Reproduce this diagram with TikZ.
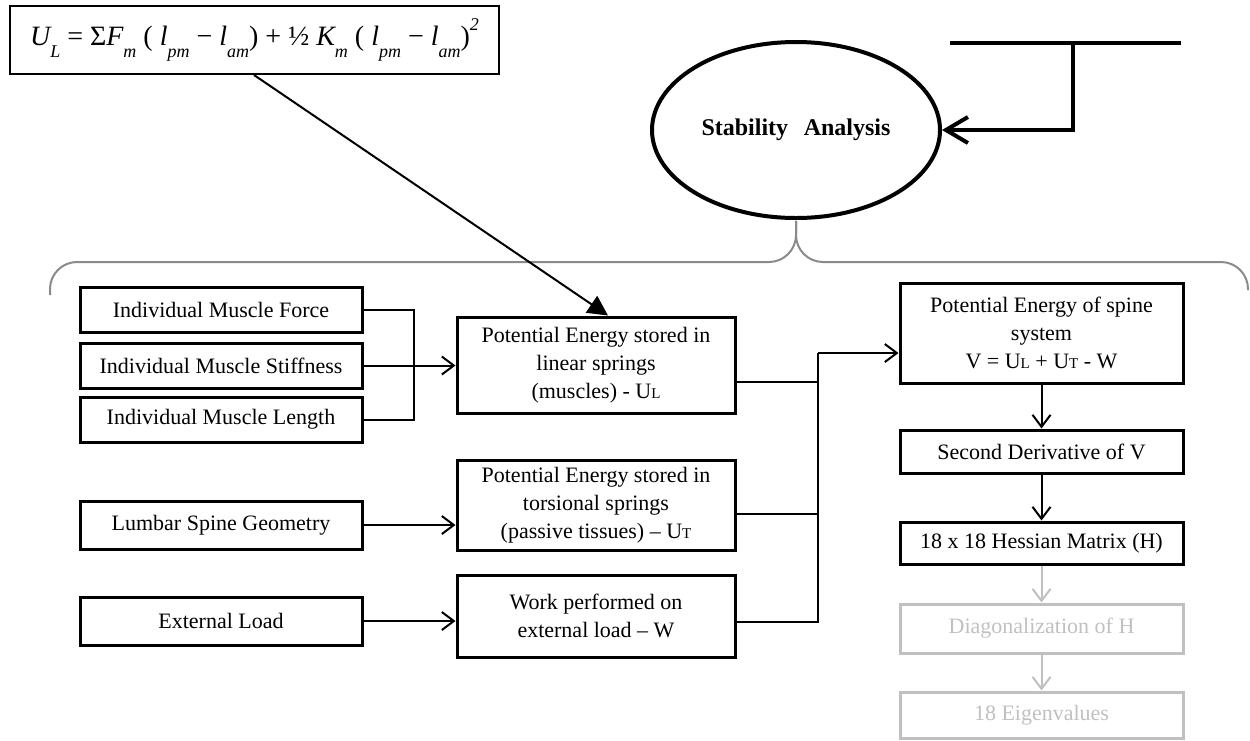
\documentclass[tikz,border=0pt]{standalone}
\usepackage{fontspec}
\setmainfont{Liberation Serif}
\usetikzlibrary{arrows.meta,positioning,shapes.geometric}
\definecolor{fadegray}{HTML}{C0C0C0}
\definecolor{bracegray}{HTML}{8A8A8A}
\newcommand\smc[1]{{\fontsize{15}{15}\selectfont #1}}
\newcommand\lowsub[1]{\raisebox{-0.42em}{\fontsize{18}{18}\selectfont\itshape #1}}
\tikzset{box/.style={draw,line width=3pt,align=center,inner sep=0pt,
    font=\fontsize{22}{28}\selectfont},
  gbox/.style={box,draw=fadegray,text=fadegray},
  link/.style={line width=2pt},
  flow/.style={link,-{Straight Barb[length=12pt,width=18pt]}},
  gflow/.style={flow,fadegray},
  pointer/.style={link,-{Triangle[length=20pt,width=20pt]}},
  heavy/.style={line width=4pt},
  heavyflow/.style={heavy,-{Straight Barb[length=22pt,width=26pt]}}}

\begin{document}
\begin{tikzpicture}[x=1pt,y=-1pt]
\useasboundingbox (0,0) rectangle (1250,740);
% formula and goal
\node[draw,line width=2pt,minimum width=489,minimum height=68,inner sep=0pt,
  font=\fontsize{28}{30}\selectfont] (eq) at (254.5,40)
  {\itshape U\lowsub{L} \upshape= Σ\itshape F\lowsub{m} \upshape( \itshape l\lowsub{pm} \upshape− \itshape l\lowsub{am}\upshape)
   + ½ \itshape K\lowsub{m} \upshape( \itshape l\lowsub{pm} \upshape− \itshape l\lowsub{am}\upshape)\raisebox{0.55em}{\fontsize{18}{18}\selectfont\itshape 2}};
\node[ellipse,draw,line width=4pt,minimum width=288,minimum height=176,
  font=\fontsize{24}{28}\bfseries] (sa) at (796,130) {Stability\hspace{0.4em} Analysis};
\coordinate (bl) at (950,43);
\coordinate (br) at (1181,43);
\coordinate (bk) at (1073,43);
\draw[heavy] (bl) -- (br);
\draw[heavyflow] (bk) |- (sa.east);
% brace
\draw[bracegray,line width=2pt,rounded corners=27pt]
  (50,295) |- (796,262) -- (796,221);
\draw[bracegray,line width=2pt,rounded corners=27pt]
  (796,221) -- (796,262) -| (1248,290);
% inputs
\foreach \n/\y/\t in {f1/310/Force,f2/365.5/Stiffness,f3/419.5/Length}
  \node[box,minimum width=282,minimum height=45] (\n) at (221,\y) {Individual Muscle \t};
\node[box,minimum width=282,minimum height=48] (geo) at (221,525) {Lumbar Spine Geometry};
\node[box,minimum width=282,minimum height=48] (load) at (221,621) {External Load};
% energies
\node[box,minimum width=278,minimum height=96] (pl) at (596,365)
  {Potential Energy stored in\\linear springs\\(muscles) - U\smc{L}};
\node[box,minimum width=278,minimum height=90] (pt) at (596,505)
  {Potential Energy stored in\\torsional springs\\(passive tissues) – U\smc{T}};
\node[box,minimum width=278,minimum height=82] (pw) at (596,616)
  {Work performed on\\external load – W};
% analysis chain
\node[box,minimum width=283,minimum height=100] (pv) at (1041.5,333)
  {Potential Energy of spine\\system\\V = U\smc{L} + U\smc{T} - W};
\node[box,minimum width=283,minimum height=43] (d2) at (1041.5,451.5) {Second Derivative of V};
\node[box,minimum width=283,minimum height=42] (hm) at (1041.5,543) {18 x 18 Hessian Matrix (H)};
\node[gbox,minimum width=283,minimum height=49] (dg) at (1041.5,628.5) {Diagonalization of H};
\node[gbox,minimum width=283,minimum height=46] (ev) at (1041.5,715) {18 Eigenvalues};
% connectors
\coordinate (jL) at (414,310);
\coordinate (jR) at (818,353);
\draw[link] (f1.east) -- (jL) |- (f3.east);
\draw[flow] (f2.east) -- (f2.east -| pl.west);
\draw[flow] (geo.east) -- (geo.east -| pt.west);
\draw[flow] (load.east) -- (load.east -| pw.west);
\draw[pointer] ([xshift=-0.5pt]eq.south) -- ([xshift=12pt]pl.north);
\draw[link] ([yshift=-17pt]pl.east) -- ([yshift=-17pt]pl.east -| jR);
\draw[link] ([yshift=-9pt]pt.east) -- ([yshift=-9pt]pt.east -| jR);
\draw[link] ([yshift=-6pt]pw.east) -| (jR);
\draw[flow] (jR) -- (jR -| pv.west);
\draw[flow] (pv) -- (d2);
\draw[flow] (d2) -- (hm);
\draw[gflow] (hm) -- (dg);
\draw[gflow] (dg) -- (ev);
\end{tikzpicture}
\end{document}
